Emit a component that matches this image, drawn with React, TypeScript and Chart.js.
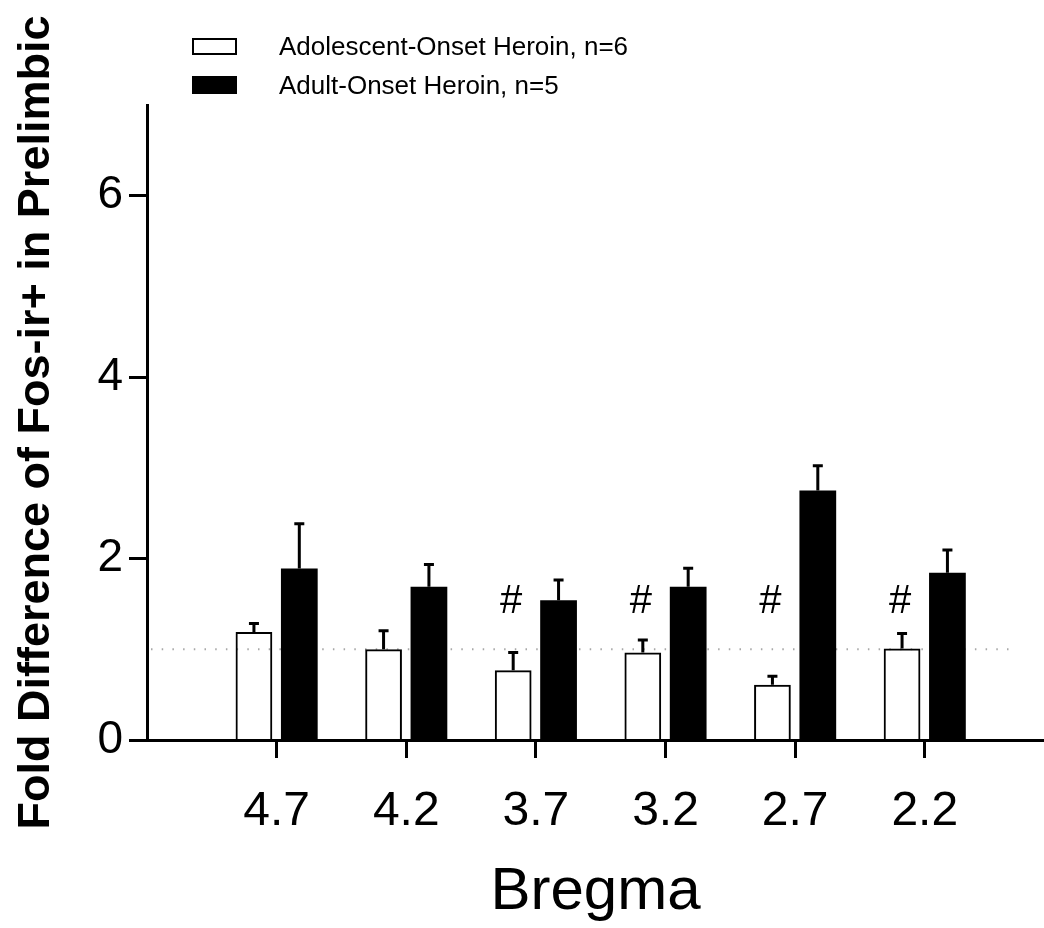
import React, { useEffect, useRef } from 'react';
import { Chart, registerables } from 'chart.js';
Chart.register(...registerables);

const BREGMA = [4.7, 4.2, 3.7, 3.2, 2.7, 2.2];
const ADOLESCENT_MEAN = [1.19, 1.0, 0.77, 0.965, 0.61, 1.01];
const ADOLESCENT_SEM = [0.11, 0.22, 0.21, 0.155, 0.11, 0.18];
const ADULT_MEAN = [1.89, 1.69, 1.54, 1.69, 2.75, 1.845];
const ADULT_SEM = [0.51, 0.26, 0.24, 0.22, 0.29, 0.265];
const SIGNIFICANT = [false, false, true, true, true, true];
const Y_TICKS = [0, 2, 4, 6];
const BASELINE = 1;
const SERIES_LABELS = ['Adolescent-Onset Heroin, n=6', 'Adult-Onset Heroin, n=5'];
const Y_TITLE = 'Fold Difference of Fos-ir+ in Prelimbic';
const X_TITLE = 'Bregma';

const FONT = "'Liberation Sans', Arial, Helvetica, sans-serif";
const SEMS = [ADOLESCENT_SEM, ADULT_SEM];

const baselinePlugin = {
  id: 'baseline',
  beforeDatasetsDraw(chart: any) {
    const { ctx, chartArea, scales } = chart;
    const y = scales.y.getPixelForValue(BASELINE);
    ctx.save();
    ctx.strokeStyle = '#a8a8a8';
    ctx.lineWidth = 2;
    ctx.setLineDash([1.5, 9.2]);
    ctx.beginPath();
    ctx.moveTo(chartArea.left + 4, y);
    ctx.lineTo(scales.x.getPixelForValue(1.85), y);
    ctx.stroke();
    ctx.restore();
  },
};

const errorBarPlugin = {
  id: 'errorBars',
  afterDatasetsDraw(chart: any) {
    const { ctx, scales } = chart;
    ctx.save();
    ctx.strokeStyle = '#000';
    ctx.lineWidth = 3;
    chart.data.datasets.forEach((ds: any, di: number) => {
      const meta = chart.getDatasetMeta(di);
      meta.data.forEach((el: any, i: number) => {
        const v = ds.data[i].y;
        const top = scales.y.getPixelForValue(v + SEMS[di][i]);
        ctx.beginPath();
        ctx.moveTo(el.x, el.y);
        ctx.lineTo(el.x, top);
        ctx.moveTo(el.x - 5, top + 1.5);
        ctx.lineTo(el.x + 5, top + 1.5);
        ctx.stroke();
      });
    });
    ctx.restore();
  },
};

const sigPlugin = {
  id: 'sig',
  afterDatasetsDraw(chart: any) {
    const { ctx, scales } = chart;
    const meta = chart.getDatasetMeta(0);
    ctx.save();
    ctx.fillStyle = '#000';
    ctx.font = `40px ${FONT}`;
    ctx.textAlign = 'center';
    ctx.textBaseline = 'middle';
    SIGNIFICANT.forEach((s, i) => {
      if (!s) return;
      const el = meta.data[i];
      ctx.fillText('#', el.x - 2, scales.y.getPixelForValue(1.52));
    });
    ctx.restore();
  },
};

const legendPlugin = {
  id: 'customLegend',
  afterDraw(chart: any) {
    const { ctx } = chart;
    ctx.save();
    const rows = [46, 85];
    chart.data.datasets.forEach((ds: any, i: number) => {
      const cy = rows[i];
      if (i === 0) {
        ctx.fillStyle = '#fff';
        ctx.fillRect(192, cy - 8, 45, 17);
        ctx.strokeStyle = '#000';
        ctx.lineWidth = 2;
        ctx.strokeRect(193, cy - 7, 43, 15);
      } else {
        ctx.fillStyle = '#000';
        ctx.fillRect(192, cy - 9, 45, 18);
      }
      ctx.fillStyle = '#000';
      ctx.font = `26px ${FONT}`;
      ctx.textAlign = 'left';
      ctx.textBaseline = 'alphabetic';
      ctx.fillText(SERIES_LABELS[i], 279, cy + 9);
    });
    ctx.restore();
  },
};

export default function App() {
  const ref = useRef<HTMLCanvasElement | null>(null);
  useEffect(() => {
    if (!ref.current) return;
    const chart = new Chart(ref.current, {
      type: 'bar',
      data: {
        datasets: [
          {
            label: SERIES_LABELS[0],
            data: BREGMA.map((x, i) => ({ x, y: ADOLESCENT_MEAN[i] })),
            backgroundColor: 'rgba(255,255,255,0)',
            borderColor: '#000',
            borderWidth: 2,
            barPercentage: 0.81,
            categoryPercentage: 0.7,
          },
          {
            label: SERIES_LABELS[1],
            data: BREGMA.map((x, i) => ({ x, y: ADULT_MEAN[i] })),
            backgroundColor: '#000',
            borderColor: '#000',
            borderWidth: 0,
            barPercentage: 0.81,
            categoryPercentage: 0.7,
          },
        ],
      },
      options: {
        responsive: false,
        animation: false,
        devicePixelRatio: 1,
        layout: { padding: { top: 105, left: 0, right: 0, bottom: 0 } },
        plugins: { legend: { display: false }, tooltip: { enabled: false } },
        scales: {
          x: {
            type: 'linear',
            reverse: true,
            min: 1.74,
            max: 5.2,
            offset: false,
            afterBuildTicks: (s: any) => {
              s.ticks = BREGMA.map((v) => ({ value: v }));
            },
            afterFit: (s: any) => {
              s.height = 188;
            },
            ticks: {
              color: '#000',
              font: { family: FONT, size: 48 },
              padding: 25,
              maxRotation: 0,
              autoSkip: false,
              callback: (v: any) => Number(v).toFixed(1),
            },
            grid: {
              display: true,
              drawOnChartArea: false,
              drawTicks: true,
              tickLength: 18,
              tickWidth: 3,
              tickColor: '#000',
              offset: false,
            },
            border: { display: true, color: '#000', width: 3 },
            title: {
              display: true,
              text: X_TITLE,
              color: '#000',
              font: { family: FONT, size: 60 },
              padding: { top: 0, bottom: 0 },
            },
          },
          y: {
            type: 'linear',
            min: 0,
            max: 7,
            afterBuildTicks: (s: any) => {
              s.ticks = Y_TICKS.map((v) => ({ value: v }));
            },
            afterFit: (s: any) => {
              s.width = 147;
            },
            ticks: {
              color: '#000',
              font: { family: FONT, size: 46 },
              padding: 6,
            },
            grid: {
              display: true,
              drawOnChartArea: false,
              drawTicks: true,
              tickLength: 18,
              tickWidth: 3,
              tickColor: '#000',
            },
            border: { display: true, color: '#000', width: 3 },
            title: {
              display: true,
              text: Y_TITLE,
              color: '#000',
              font: { family: FONT, size: 45, weight: 'bold' },
              padding: { top: 10, bottom: 0 },
            },
          },
        },
      },
      plugins: [baselinePlugin, errorBarPlugin, sigPlugin, legendPlugin],
    } as any);
    return () => chart.destroy();
  }, []);
  return (
    <div style={{ position: 'absolute', left: 0, top: 0, width: 1044, height: 928, background: '#fff' }}>
      <canvas ref={ref} width={1044} height={928} style={{ width: 1044, height: 928, display: 'block' }} />
    </div>
  );
}
